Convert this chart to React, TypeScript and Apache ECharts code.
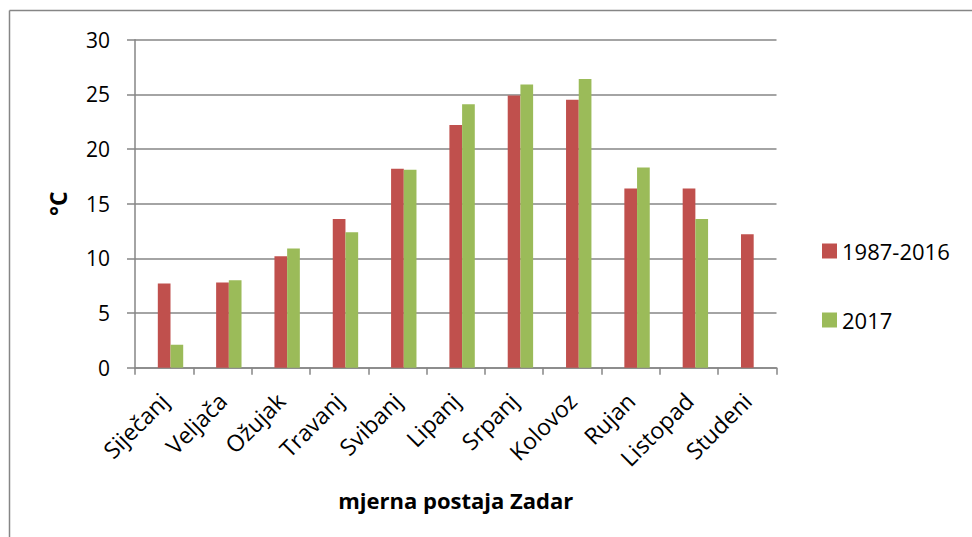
import React, { useEffect, useRef } from "react";
import * as echarts from "echarts";

const categories = ["Siječanj", "Veljača", "Ožujak", "Travanj", "Svibanj", "Lipanj", "Srpanj", "Kolovoz", "Rujan", "Listopad", "Studeni"];
const series1987 = [7.7, 7.8, 10.2, 13.6, 18.2, 22.2, 24.9, 24.5, 16.4, 16.4, 12.2];
const series2017: (number | null)[] = [2.1, 8.0, 10.9, 12.4, 18.1, 24.1, 25.9, 26.4, 18.3, 13.6, null];
const emptySeries: (number | null)[] = categories.map(() => null);
const yTicks = { min: 0, max: 30, interval: 5 };

const FONT = "'Open Sans', 'Noto Sans', sans-serif";

export default function App() {
  const ref = useRef<HTMLDivElement>(null);
  useEffect(() => {
    if (!ref.current) return;
    const chart = echarts.init(ref.current, null, { renderer: "svg" });
    chart.setOption({
      animation: false,
      backgroundColor: "#ffffff",
      textStyle: { fontFamily: FONT },
      grid: { left: 135, right: 195.5, top: 39.7, bottom: 169.3, containLabel: false },
      legend: {
        orient: "vertical",
        left: 822,
        top: 240,
        itemWidth: 15,
        itemHeight: 15,
        itemGap: 47,
        icon: "rect",
        padding: 0,
        data: ["1987-2016", "2017"],
        textStyle: { fontFamily: FONT, fontSize: 22, color: "#000", padding: [0, 0, 0, 0] },
      },
      xAxis: {
        type: "category",
        data: categories,
        name: "mjerna postaja Zadar",
        nameLocation: "middle",
        nameGap: 121,
        nameTextStyle: { fontFamily: FONT, fontSize: 22, fontWeight: "bold", color: "#000" },
        axisLine: { lineStyle: { color: "#868686", width: 1.5 } },
        axisTick: { show: true, length: 7, alignWithLabel: false, lineStyle: { color: "#868686", width: 1.5 } },
        axisLabel: { rotate: 45, interval: 0, fontFamily: FONT, fontSize: 23, color: "#000", margin: 29 },
      },
      yAxis: {
        type: "value",
        min: yTicks.min,
        max: yTicks.max,
        interval: yTicks.interval,
        name: "°C",
        nameLocation: "middle",
        nameRotate: 90,
        nameGap: 66,
        nameTextStyle: { fontFamily: FONT, fontSize: 23, fontWeight: "bold", color: "#000" },
        axisLine: { show: true, lineStyle: { color: "#868686", width: 1.5 } },
        axisTick: { show: true, length: 8, lineStyle: { color: "#868686", width: 1.5 } },
        axisLabel: { fontFamily: FONT, fontSize: 21, color: "#000", margin: 25 },
        splitLine: { lineStyle: { color: "#868686", width: 1.5 } },
      },
      series: [
        { name: "hidden", type: "bar", data: emptySeries, barWidth: 12.7, barGap: "0%", itemStyle: { color: "transparent" } },
        { name: "1987-2016", type: "bar", data: series1987, barWidth: 12.7, barGap: "0%", itemStyle: { color: "#C0504D" } },
        { name: "2017", type: "bar", data: series2017, barWidth: 12.7, barGap: "0%", itemStyle: { color: "#9BBB59" } },
      ],
      graphic: [
        { type: "line", shape: { x1: 9.5, y1: 10.5, x2: 972, y2: 10.5 }, style: { stroke: "#868686", lineWidth: 1.5 } },
        { type: "line", shape: { x1: 9.5, y1: 10.5, x2: 9.5, y2: 537 }, style: { stroke: "#868686", lineWidth: 1.5 } },
      ],
    });
    return () => chart.dispose();
  }, []);
  return <div ref={ref} style={{ position: "fixed", left: 0, top: 0, width: 972, height: 537 }} />;
}
